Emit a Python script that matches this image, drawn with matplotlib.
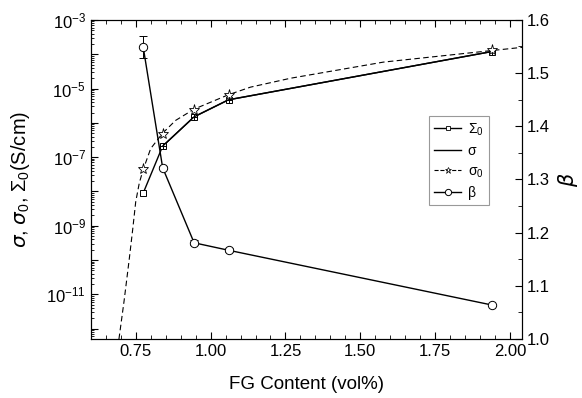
import matplotlib
matplotlib.use("Agg")
import matplotlib.pyplot as plt
import numpy as np
from matplotlib.lines import Line2D
from matplotlib.ticker import LogLocator, MultipleLocator, FixedLocator, NullFormatter, FuncFormatter

plt.rcParams['font.family'] = ['Liberation Sans', 'DejaVu Sans']
plt.rcParams['mathtext.fontset'] = 'custom'
plt.rcParams['mathtext.rm'] = 'Liberation Sans'
plt.rcParams['mathtext.it'] = 'DejaVu Sans:italic'

# data
fg = [0.775, 0.84, 0.945, 1.06, 1.94]
Sigma0 = [9.0e-9, 2.1e-7, 1.5e-6, 4.7e-6, 1.2e-4]
sigma_x = [0.84, 0.945, 1.06, 1.94]
sigma = [2.1e-7, 1.5e-6, 4.7e-6, 1.2e-4]
sigma0 = [4.4e-8, 4.6e-7, 2.4e-6, 6.3e-6, 1.35e-4]
beta = [1.549, 1.322, 1.181, 1.167, 1.064]
beta_err = [0.02, 0.003, 0.005, 0.004, 0.002]
fit_x = [0.694, 0.711, 0.728, 0.740, 0.750, 0.762, 0.775, 0.80, 0.84, 0.883,
         0.945, 1.06, 1.133, 1.267, 1.577, 1.91, 2.04]
fit_log = [-12.3, -11.2, -10.0, -9.1, -8.3, -7.75, -7.36, -6.75, -6.30, -5.93,
           -5.60, -5.18, -4.96, -4.70, -4.23, -3.92, -3.80]

fig = plt.figure(figsize=(5.82, 3.98), dpi=100)
ax = fig.add_axes([0.156, 0.148, 0.741, 0.802])
ax2 = ax.twinx()

ax.set_yscale('log')
ax.plot(fg, Sigma0, '-', color='black', lw=1.0, marker='s', ms=5, mfc='white', mec='black', mew=0.7)
ax.plot(sigma_x, sigma, '-', color='black', lw=1.0, marker='+', ms=5, mew=0.7)
ax.plot(fit_x, [10 ** v for v in fit_log], '--', color='black', lw=0.8, dashes=(5, 3))
ax.plot(fg, sigma0, linestyle='none', marker='*', ms=8, mfc='white', mec='black', mew=0.6)
ax2.errorbar(fg, beta, yerr=beta_err, fmt='-', color='black', lw=1.0, marker='o', ms=6,
             mfc='white', mec='black', mew=0.7, capsize=3, elinewidth=0.7, capthick=0.7)

ax.set_xlim(0.6, 2.04)
ax.set_ylim(5e-13, 1e-3)
ax2.set_ylim(1.0, 1.6)

ax.xaxis.set_major_locator(FixedLocator([0.75, 1.0, 1.25, 1.5, 1.75, 2.0]))
ax.xaxis.set_minor_locator(MultipleLocator(0.05))
ax.xaxis.set_major_formatter(FuncFormatter(lambda v, p: f"{v:.2f}"))

ax.yaxis.set_major_locator(LogLocator(base=10, numticks=20))
ax.yaxis.set_minor_locator(LogLocator(base=10, subs=np.arange(2, 10), numticks=20))
ax.yaxis.set_minor_formatter(NullFormatter())
def yfmt(v, p):
    e = int(round(np.log10(v)))
    return r'$\mathregular{10^{%d}}$' % e if e % 2 != 0 else ''
ax.yaxis.set_major_formatter(FuncFormatter(yfmt))

ax2.yaxis.set_major_locator(MultipleLocator(0.1))
ax2.yaxis.set_minor_locator(MultipleLocator(0.05))
ax2.yaxis.set_major_formatter(FuncFormatter(lambda v, p: f"{v:.1f}"))

ax.tick_params(axis='x', which='both', direction='in', top=True, labelsize=12)
ax.tick_params(axis='x', which='major', length=5)
ax.tick_params(axis='x', which='minor', length=3)
ax.tick_params(axis='y', which='both', direction='in', right=False, labelsize=12)
ax.tick_params(axis='y', which='major', length=5)
ax.tick_params(axis='y', which='minor', length=2.5)
ax2.tick_params(axis='y', which='both', direction='in', labelsize=12)
ax2.tick_params(axis='y', which='major', length=5)
ax2.tick_params(axis='y', which='minor', length=3)

ax.set_xlabel('FG Content (vol%)', fontsize=13.5, labelpad=12)
ax.set_ylabel(r'$\sigma$, $\sigma_0$, $\Sigma_0$(S/cm)', fontsize=14.5, labelpad=10)
ax2.set_ylabel(r'$\beta$', fontsize=15, labelpad=4)

handles = [
    Line2D([], [], color='black', lw=1.0, marker='s', ms=3.5, mfc='white', mec='black', mew=0.6),
    Line2D([], [], color='black', lw=1.0),
    Line2D([], [], color='black', lw=0.8, ls='--', marker='*', ms=5, mfc='white', mec='black', mew=0.5),
    Line2D([], [], color='black', lw=1.0, marker='o', ms=4.5, mfc='white', mec='black', mew=0.7),
]
labels = [r'Σ$_\mathregular{0}$', 'σ', r'σ$_\mathregular{0}$', 'β']
leg = ax2.legend(handles, labels, loc='upper left', bbox_to_anchor=(0.784, 0.70),
                 borderaxespad=0, frameon=True, fancybox=False, edgecolor='gray', fontsize=10,
                 handlelength=1.9, borderpad=0.4, labelspacing=0.45, handletextpad=0.5)
leg.get_frame().set_linewidth(0.8)

fig.savefig('out.png', dpi=100)
